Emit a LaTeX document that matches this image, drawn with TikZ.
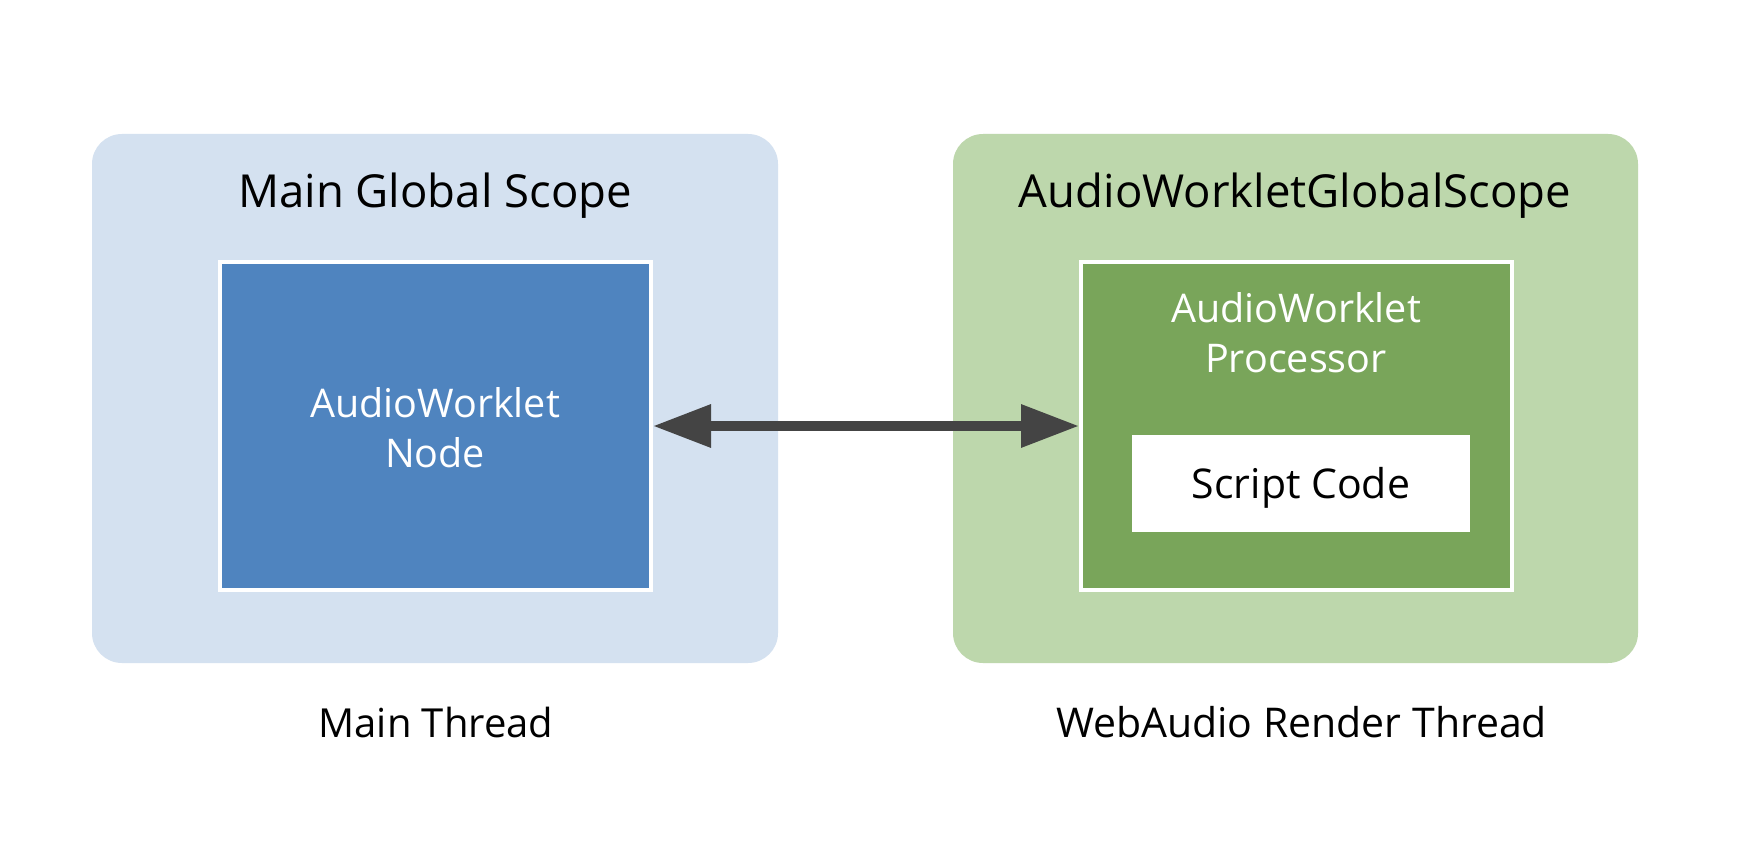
\documentclass[tikz,border=0pt]{standalone}
\usepackage{fontspec}
\setmainfont{Open Sans}
\usetikzlibrary{arrows.meta}
\definecolor{lightblue}{HTML}{D4E1F0}
\definecolor{darkblue}{HTML}{4F84BF}
\definecolor{lightgreen}{HTML}{BDD7AC}
\definecolor{darkgreen}{HTML}{79A55A}
\definecolor{arrowgray}{HTML}{444444}
\begin{document}
\begin{tikzpicture}[x=1pt,y=-1pt,
  outerbox/.style={rounded corners=30pt, minimum width=686pt, minimum height=529pt, inner sep=0pt, draw=none},
  innerbox/.style={draw=white, line width=4pt, minimum width=431pt, minimum height=328pt, inner sep=0pt},
  titletext/.style={anchor=base, font=\fontsize{45.5}{50}\selectfont, text=black, inner sep=0pt},
  boxtext/.style={anchor=base, font=\fontsize{39.5}{50}\selectfont, text=white, align=center, inner sep=0pt},
  labeltext/.style={anchor=base, font=\fontsize{40}{46}\selectfont, text=black, inner sep=0pt},
  link/.style={draw=arrowgray, line width=9.6pt, {Triangle[length=58pt,width=41pt]}-{Triangle[length=58pt,width=41pt]}}
]
\useasboundingbox (0,0) rectangle (1750,856);
\fill[white] (0,0) rectangle (1750,856);
\node[outerbox, fill=lightblue] (mainscope) at (435,398.5) {};
\node[outerbox, fill=lightgreen, minimum width=685pt] (awscope) at (1295.5,398.5) {};
\node[titletext] (maintitle) at (435,207) {Main Global Scope};
\node[titletext] (awtitle) at (1295,207) {AudioWorkletGlobalScope};
\node[innerbox, fill=darkblue] (awnode) at (435.5,426) {};
\node[innerbox, fill=darkgreen] (awproc) at (1296.5,426) {};
\node[boxtext] (awnodetext) at (435,467) {AudioWorklet\\Node};
\node[boxtext] (awproctext) at (1296,372) {AudioWorklet\\Processor};
\node[fill=white, minimum width=338pt, minimum height=97pt, inner sep=0pt] (script) at (1301,483.5) {};
\node[labeltext, font=\fontsize{41}{46}\selectfont] (scripttext) at (1301,498) {Script Code};
\node[labeltext] (mainthread) at (436,737) {Main Thread};
\node[labeltext, font=\fontsize{41}{46}\selectfont] (renderthread) at (1301.5,737) {WebAudio Render Thread};
\draw[link] (awnode.east) -- (awproc.west);
\end{tikzpicture}
\end{document}
